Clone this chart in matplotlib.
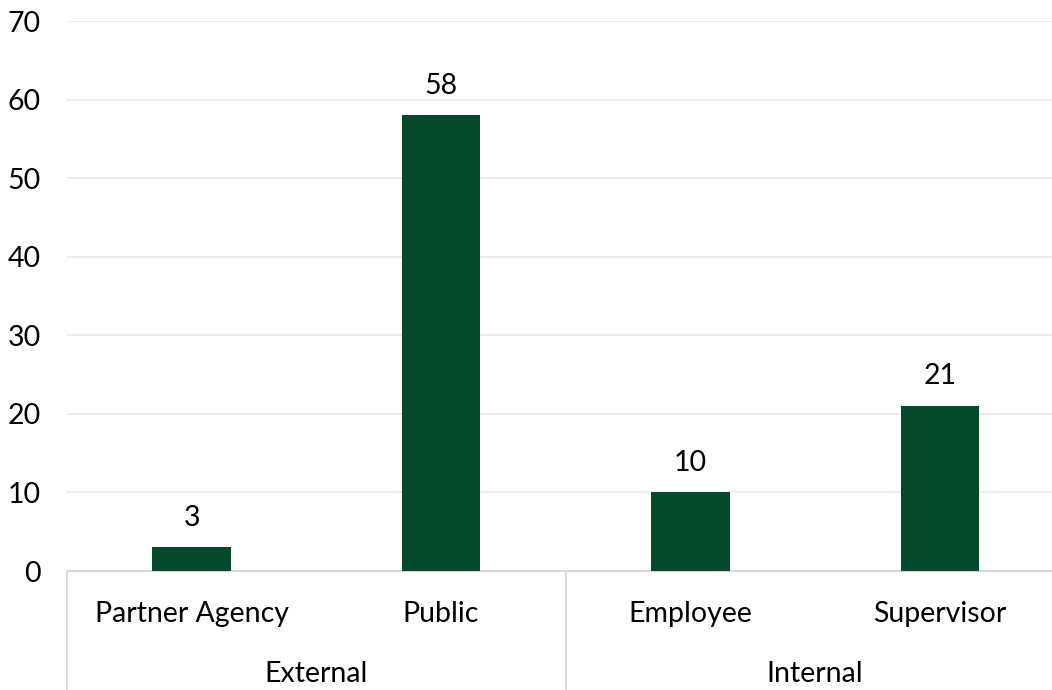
import numpy as np
import matplotlib.pyplot as plt
from matplotlib.transforms import blended_transform_factory

# chart data
categories = ['Partner Agency', 'Public', 'Employee', 'Supervisor']
values = [3, 58, 10, 21]
groups = ['External', 'Internal']
group_sizes = [2, 2]
y_ticks = [0, 10, 20, 30, 40, 50, 60, 70]

plt.rcParams['font.family'] = ['Lato', 'DejaVu Sans']
FS = 20.5

fig = plt.figure(figsize=(10.52, 6.9), dpi=100)
ax = fig.add_axes([67 / 1052, 119 / 690, (1052 - 67) / 1052, 550 / 690])

x = np.arange(len(categories))
ax.bar(x, values, width=0.315, color='#06492A', zorder=3)

# value labels above the bars
for xi, v in zip(x, values):
    ax.annotate(str(v), (xi, v), xytext=(0, 12), textcoords='offset points',
                ha='center', va='bottom', fontsize=FS, color='#000000')

ax.set_ylim(0, 70)
ax.set_xlim(-0.5, 3.45)
ax.set_yticks(y_ticks)
ax.tick_params(axis='y', length=0, pad=19, labelsize=FS)
ax.set_xticks([])
ax.grid(axis='y', color='#ececec', linewidth=1.3, zorder=0)

for side in ['top', 'right', 'left']:
    ax.spines[side].set_visible(False)
ax.spines['bottom'].set_color('#d9d9d9')
ax.spines['bottom'].set_linewidth(1.5)

# two-level category axis
trans = blended_transform_factory(ax.transData, ax.transAxes)
for xi, name in zip(x, categories):
    ax.text(xi, -0.078, name, transform=trans, ha='center', va='center', fontsize=FS)

start = 0
for g, n in zip(groups, group_sizes):
    mid = start + (n - 1) / 2
    ax.text(mid, -0.188, g, transform=trans, ha='center', va='center', fontsize=FS)
    ax.plot([start - 0.5, start - 0.5], [0, -0.22], transform=trans,
            color='#d9d9d9', linewidth=1.5, clip_on=False)
    start += n
ax.plot([start - 0.5, start - 0.5], [0, -0.22], transform=trans,
        color='#d9d9d9', linewidth=1.5, clip_on=False)

fig.savefig('out.png', dpi=100)
